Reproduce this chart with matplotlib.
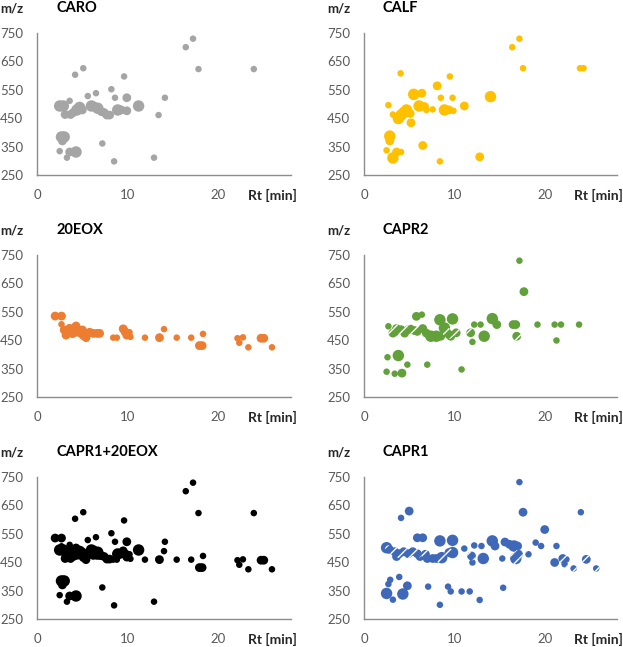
import matplotlib.pyplot as plt
import numpy as np

# dati: (Rt [min], m/z, classe di intensita 1-3)
caro = [(2.5, 493, 3), (2.9, 493, 3), (3.1, 463, 2), (3.6, 511, 1), (4.2, 603, 1), (5.1, 626, 1),
        (4.0, 470, 2), (4.4, 479, 3), (4.7, 488, 3), (5.0, 479, 2), (3.7, 463, 2), (5.6, 528, 1),
        (6.5, 538, 1), (6.0, 493, 3), (6.3, 493, 2), (6.7, 485, 3), (7.1, 473, 2), (7.4, 470, 2),
        (7.7, 461, 2), (8.0, 461, 2), (8.2, 552, 1), (8.6, 522, 1), (8.9, 479, 3), (9.3, 479, 2),
        (9.6, 597, 1), (9.9, 522, 2), (9.9, 476, 2), (11.2, 493, 3), (14.1, 522, 1), (13.4, 461, 1),
        (16.4, 700, 1), (17.2, 730, 1), (17.8, 623, 1), (23.9, 623, 1), (2.7, 384, 3), (3.0, 384, 3),
        (2.8, 370, 2), (2.5, 334, 1), (3.3, 311, 1), (3.6, 331, 2), (4.3, 331, 3), (7.2, 361, 1),
        (8.5, 298, 1), (12.9, 311, 1)]

calf = [(16.4, 700, 1), (17.2, 730, 1), (17.6, 626, 1), (23.9, 626, 1), (24.3, 626, 1), (4.05, 608, 1),
        (9.5, 597, 1), (8.1, 564, 2), (8.5, 522, 1), (9.8, 522, 1), (14.0, 526, 3), (5.5, 534, 3),
        (6.4, 538, 2), (2.7, 496, 1), (3.2, 463, 1), (4.1, 461, 3), (3.8, 449, 3), (4.4, 470, 3),
        (4.7, 479, 3), (5.1, 467, 2), (5.2, 434, 2), (6.1, 493, 3), (6.7, 491, 2), (6.9, 479, 1),
        (7.6, 481, 1), (8.9, 479, 3), (9.4, 479, 2), (9.9, 476, 1), (11.1, 493, 2), (2.85, 387, 3),
        (2.85, 370, 2), (2.5, 337, 1), (3.6, 331, 2), (3.2, 310, 3), (4.1, 331, 1), (6.5, 354, 2),
        (8.4, 298, 1), (12.8, 314, 2)]

eox = [(2.0, 535, 2), (2.7, 535, 2), (2.7, 506, 1), (3.0, 486, 2), (3.2, 468, 2), (3.6, 492, 2),
       (3.9, 478, 3), (4.3, 500, 2), (4.6, 482, 3), (5.0, 486, 2), (5.2, 470, 3), (5.4, 459, 2),
       (5.8, 478, 2), (6.2, 474, 2), (6.6, 474, 2), (6.9, 474, 2), (8.4, 459, 1), (8.8, 459, 1),
       (9.5, 490, 2), (9.7, 480, 2), (9.9, 468, 2), (10.3, 462, 1), (10.2, 478, 1), (11.9, 459, 1),
       (13.5, 459, 2), (14.0, 489, 1), (15.4, 459, 1), (17.0, 459, 1), (18.3, 472, 1), (17.9, 431, 2),
       (18.2, 431, 2), (22.1, 457, 1), (22.3, 441, 1), (22.7, 460, 1), (23.3, 425, 1), (24.7, 457, 2),
       (25.0, 457, 2), (25.9, 425, 1)]

capr2 = [(17.2, 730, 1), (17.7, 621, 2), (2.7, 499, 1), (2.6, 390, 1), (2.5, 339, 1), (3.8, 396, 3),
         (3.4, 332, 1), (4.2, 334, 2), (4.8, 364, 1), (7.0, 364, 1), (10.8, 347, 1), (5.8, 534, 2),
         (6.4, 540, 1), (8.4, 522, 3), (9.8, 525, 3), (12.2, 505, 1), (12.9, 505, 1), (14.2, 526, 3),
         (14.7, 505, 2), (16.5, 505, 2), (16.8, 505, 2), (19.2, 505, 1), (21.1, 505, 1), (21.8, 505, 1),
         (23.8, 505, 1), (21.3, 449, 1), (13.3, 464, 3), (12.0, 444, 1), (3.4, 479, 2), (5.2, 493, 1),
         (6.5, 491, 2), (6.9, 475, 2), (7.4, 464, 3), (8.0, 464, 3), (8.5, 464, 2), (9.6, 464, 2),
         (8.9, 493, 3), (4.5, 475, 2)]
capr2_hatch = [(3.6, 491, 2), (4.1, 487, 2), (4.9, 487, 2), (5.6, 484, 2), (5.9, 481, 2), (3.2, 475, 2),
               (9.1, 481, 2), (9.4, 470, 2), (10.2, 476, 2), (11.8, 476, 2), (16.9, 464, 2)]

capr1 = [(17.2, 732, 1), (17.6, 626, 2), (24.0, 626, 1), (4.1, 606, 1), (5.0, 630, 2), (20.0, 565, 2),
         (19.0, 519, 1), (19.6, 507, 1), (21.3, 507, 1), (15.6, 521, 2), (16.1, 513, 2), (14.2, 525, 3),
         (14.5, 507, 2), (12.2, 509, 1), (13.0, 507, 1), (11.1, 498, 1), (13.2, 463, 3), (12.0, 449, 1),
         (16.6, 507, 3), (17.0, 507, 2), (21.1, 449, 2), (8.4, 525, 3), (9.8, 527, 3), (5.9, 536, 2),
         (6.5, 536, 2), (2.5, 501, 3), (7.0, 463, 2), (9.8, 484, 3), (3.6, 470, 2), (6.2, 470, 2),
         (7.6, 463, 2), (8.0, 463, 2), (2.5, 340, 3), (2.9, 388, 1), (2.7, 373, 1), (3.9, 398, 1),
         (3.2, 318, 1), (4.3, 338, 3), (4.8, 367, 2), (7.1, 364, 1), (9.3, 364, 1), (9.6, 347, 1),
         (10.8, 347, 1), (11.7, 347, 1), (12.8, 317, 1), (15.4, 360, 1), (8.4, 300, 1)]
capr1_hatch = [(2.8, 495, 2), (3.4, 487, 2), (3.9, 480, 2), (4.4, 487, 2), (4.9, 480, 2), (5.4, 487, 2),
               (5.9, 480, 2), (6.8, 478, 2), (8.6, 466, 3), (9.4, 484, 2), (11.9, 472, 2), (15.3, 463, 1),
               (16.8, 463, 3), (17.1, 478, 2), (18.2, 478, 1), (22.0, 463, 2), (22.4, 460, 1),
               (22.2, 443, 1), (23.2, 428, 1), (24.6, 460, 2), (25.7, 428, 1)]

x_ticks = [0, 10, 20]
y_ticks = [250, 350, 450, 550, 650, 750]

# pannelli: titolo, punti pieni, punti tratteggiati, colore
panels = [
    ('CARO', caro, [], '#a5a5a5'),
    ('CALF', calf, [], '#ffc000'),
    ('20EOX', eox, [], '#ed7d31'),
    ('CAPR2', capr2, capr2_hatch, '#62a03a'),
    ('CAPR1+20EOX', caro + eox, [], '#000000'),
    ('CAPR1', capr1, capr1_hatch, '#3f69b8'),
]

size_map = {1: 22, 2: 40, 3: 68}

plt.rcParams['font.family'] = ['Lato', 'DejaVu Sans']
plt.rcParams['hatch.linewidth'] = 1.0

fig = plt.figure(figsize=(6.23, 6.47), dpi=100)
W, H = 623, 647
lefts = [37, 364]
widths = [254, 253]
tops = [33, 255, 477]
height = 142

for i, (title, pts, hatched, color) in enumerate(panels):
    r, c = divmod(i, 2)
    ax = fig.add_axes([lefts[c] / W, 1 - (tops[r] + height) / H, widths[c] / W, height / H])
    pts = np.array(pts)
    ax.scatter(pts[:, 0], pts[:, 1], s=[size_map[int(k)] for k in pts[:, 2]],
               color=color, linewidths=0, zorder=3)
    if len(hatched):
        h = np.array(hatched)
        ax.scatter(h[:, 0], h[:, 1], s=[size_map[int(k)] for k in h[:, 2]],
                   facecolor=color, edgecolors='white', linewidths=0, hatch='///', zorder=4)
    ax.set_xlim(0, 28)
    ax.set_ylim(250, 750)
    ax.set_xticks(x_ticks)
    ax.set_yticks(y_ticks)
    ax.tick_params(length=0, labelsize=9.5, labelcolor='#595959')
    ax.tick_params(axis='y', pad=10)
    ax.tick_params(axis='x', pad=10)
    for s in ['top', 'right']:
        ax.spines[s].set_visible(False)
    for s in ['left', 'bottom']:
        ax.spines[s].set_color('#8c8c8c')
        ax.spines[s].set_linewidth(1)
    ax.text(-0.146, 1.145, 'm/z', transform=ax.transAxes, fontsize=9.5,
            fontweight='bold', ha='left', va='baseline', color='#262626')
    ax.text(0.075, 1.145, title, transform=ax.transAxes, fontsize=10.5,
            fontweight='bold', ha='left', va='baseline')
    ax.text(0.83, -0.176, 'Rt [min]', transform=ax.transAxes, fontsize=10,
            fontweight='bold', ha='left', va='baseline', color='#262626')

plt.savefig('out.png', dpi=100)
plt.close()
